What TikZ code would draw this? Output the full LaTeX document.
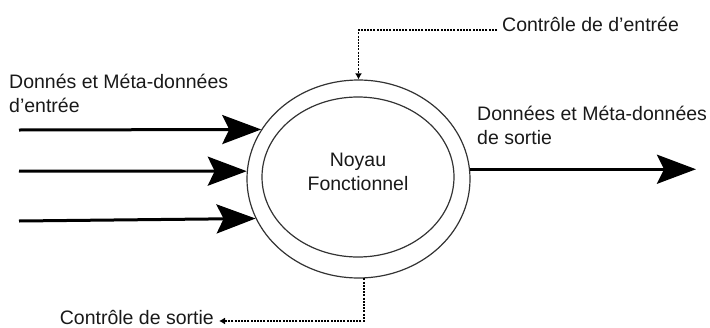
\documentclass[tikz,border=0pt]{standalone}
\usepackage{fontspec}
\setmainfont{Liberation Sans}
\usetikzlibrary{shapes.geometric,arrows.meta}

\tikzset{
  ring/.style={ellipse, draw=black!80, line width=1.2pt, inner sep=0pt},
  label/.style={inner sep=0pt, text=black!90, font=\fontsize{19.5}{24}\selectfont, align=left},
  flow/.style={line width=3pt, -{Stealth[length=39pt,width=29pt,inset=7pt]}},
  ctrl/.style={line width=1.8pt, dash pattern=on 2pt off 1.2pt,
    -{Latex[length=6pt,width=7pt]}},
}

\begin{document}
\begin{tikzpicture}[x=1pt,y=-1pt]
\useasboundingbox (0,0) rectangle (710,327);

% functional core: double ring
\node[ring, minimum width=223pt, minimum height=198pt] (core) at (358.5,179) {};
\node[ring, minimum width=192pt, minimum height=160pt] (inner) at (358,177) {};
\node[label, align=center] (name) at (358,171.5) {Noyau\\Fonctionnel};

% input data
\node[label, anchor=north west] (inlab) at (9,74) {Donnés et Méta-données\\d'entrée};
\coordinate (in1) at (19,130);
\coordinate (in2) at (19,171);
\coordinate (in3) at (19,221);
\draw[flow] (in1) -- (core.153);
\draw[flow] (in2) -- (core.176);
\draw[flow] (in3) -- (core.201);

% output data
\node[label, anchor=north west] (outlab) at (477,106) {Données et Méta-données\\de sortie};
\coordinate (out) at (696,169);
\draw[flow] (core.5) -- (core.5 -| out);

% input control
\node[label, anchor=base west] (cinlab) at (502,31) {Contrôle de d'entrée};
\coordinate (cin) at (497,30);
\draw[ctrl] (cin) -| (core.north);

% output control
\node[label, anchor=base east] (coutlab) at (214,324) {Contrôle de sortie};
\coordinate (cout) at (219,321);
\draw[ctrl] (core.273) |- (cout);
\end{tikzpicture}
\end{document}
